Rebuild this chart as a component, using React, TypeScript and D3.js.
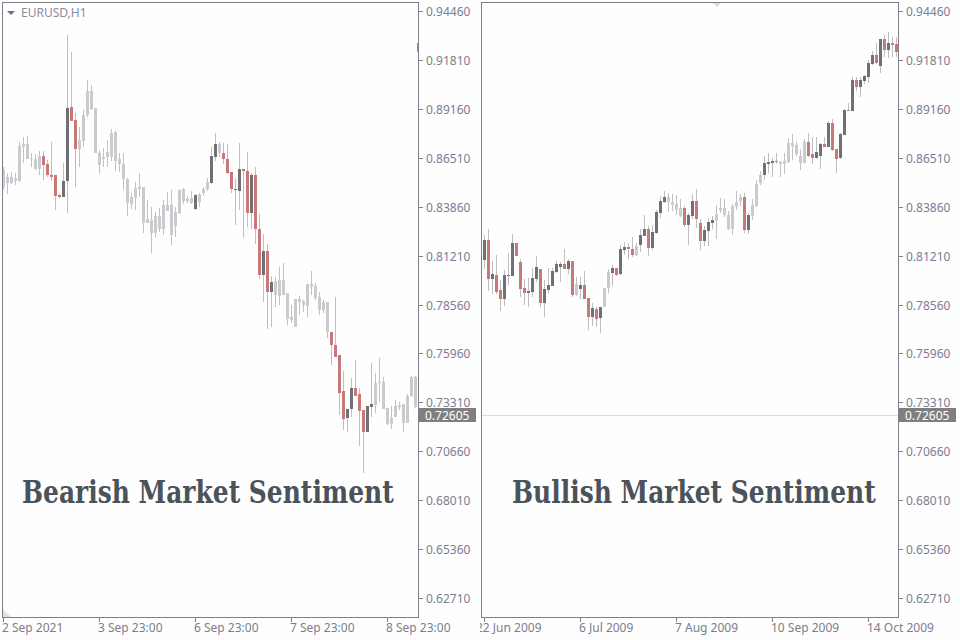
import React, { useLayoutEffect, useRef, useState } from 'react';
import * as d3 from 'd3';

// ---------- price axis ----------
const priceTicks = ['0.94460', '0.91810', '0.89160', '0.86510', '0.83860', '0.81210', '0.78560', '0.75960', '0.73310', '0.70660', '0.68010', '0.65360', '0.62710'];
const priceMin = 0.6271;
const priceMax = 0.9446;
const currentPrice = 0.72605;

// ---------- time axis ----------
const timeTickIndex = [0, 24, 48, 72, 96];
const leftTimeLabels = ['2 Sep 2021', '3 Sep 23:00', '6 Sep 23:00', '7 Sep 23:00', '8 Sep 23:00'];
const rightTimeLabels = ['22 Jun 2009', '6 Jul 2009', '7 Aug 2009', '10 Sep 2009', '14 Oct 2009'];

const symbolLabel = 'EURUSD,H1';
const leftTitle = 'Bearish Market Sentiment';
const rightTitle = 'Bullish Market Sentiment';

// ---------- left panel (bearish) ----------
const leftOpen = [0.8494, 0.8516, 0.8516, 0.8526, 0.8526, 0.8710, 0.8727, 0.8651, 0.8645, 0.8591, 0.8662, 0.8618, 0.8559, 0.8559, 0.8451, 0.8440, 0.8526, 0.8927, 0.8856, 0.8700, 0.8743, 0.8883, 0.9013, 0.8921, 0.8678, 0.8645, 0.8656, 0.8656, 0.8791, 0.8645, 0.8618, 0.8537, 0.8402, 0.8435, 0.8483, 0.8494, 0.8299, 0.8316, 0.8245, 0.8337, 0.8267, 0.8397, 0.8397, 0.8283, 0.8353, 0.8483, 0.8418, 0.8435, 0.8375, 0.8456, 0.8462, 0.8483, 0.8516, 0.8656, 0.8727, 0.8678, 0.8645, 0.8575, 0.8478, 0.8472, 0.8591, 0.8580, 0.8353, 0.8559, 0.8267, 0.8018, 0.8148, 0.7926, 0.7986, 0.7904, 0.7991, 0.7921, 0.7791, 0.7737, 0.7888, 0.7856, 0.7850, 0.7969, 0.7958, 0.7899, 0.7829, 0.7872, 0.7710, 0.7639, 0.7585, 0.7391, 0.7245, 0.7293, 0.7407, 0.7374, 0.7288, 0.7169, 0.7304, 0.7315, 0.7434, 0.7439, 0.7299, 0.7212, 0.7250, 0.7304, 0.7320, 0.7218, 0.7364, 0.7466];
const leftHigh = [0.8602, 0.8570, 0.8575, 0.8570, 0.8737, 0.8764, 0.8770, 0.8678, 0.8672, 0.8689, 0.8689, 0.8640, 0.8737, 0.8559, 0.8462, 0.8624, 0.9316, 0.9224, 0.8894, 0.8819, 0.8911, 0.9073, 0.9046, 0.8921, 0.8694, 0.8705, 0.8748, 0.8808, 0.8797, 0.8678, 0.8678, 0.8543, 0.8462, 0.8521, 0.8570, 0.8494, 0.8424, 0.8386, 0.8359, 0.8381, 0.8424, 0.8467, 0.8478, 0.8386, 0.8483, 0.8489, 0.8445, 0.8472, 0.8456, 0.8462, 0.8494, 0.8543, 0.8710, 0.8786, 0.8737, 0.8732, 0.8727, 0.8575, 0.8543, 0.8732, 0.8591, 0.8683, 0.8570, 0.8602, 0.8348, 0.8240, 0.8186, 0.8013, 0.8007, 0.8061, 0.8083, 0.7921, 0.7856, 0.7888, 0.7904, 0.7883, 0.7969, 0.8040, 0.7975, 0.7926, 0.7883, 0.7872, 0.7710, 0.7899, 0.7585, 0.7499, 0.7293, 0.7461, 0.7558, 0.7407, 0.7288, 0.7309, 0.7542, 0.7488, 0.7569, 0.7466, 0.7299, 0.7309, 0.7342, 0.7331, 0.7320, 0.7374, 0.7472, 0.7472];
const leftLow = [0.8478, 0.8456, 0.8510, 0.8505, 0.8521, 0.8624, 0.8645, 0.8602, 0.8586, 0.8559, 0.8532, 0.8548, 0.8526, 0.8370, 0.8435, 0.8440, 0.8353, 0.8851, 0.8494, 0.8602, 0.8710, 0.8873, 0.8911, 0.8678, 0.8565, 0.8602, 0.8602, 0.8635, 0.8580, 0.8575, 0.8478, 0.8337, 0.8375, 0.8370, 0.8440, 0.8245, 0.8299, 0.8137, 0.8223, 0.8251, 0.8234, 0.8364, 0.8180, 0.8223, 0.8348, 0.8402, 0.8408, 0.8402, 0.8370, 0.8386, 0.8445, 0.8472, 0.8510, 0.8635, 0.8656, 0.8618, 0.8565, 0.8462, 0.8289, 0.8370, 0.8218, 0.8278, 0.8267, 0.8186, 0.7996, 0.7872, 0.7726, 0.7737, 0.7845, 0.7856, 0.7910, 0.7748, 0.7759, 0.7737, 0.7801, 0.7818, 0.7791, 0.7910, 0.7883, 0.7801, 0.7812, 0.7677, 0.7531, 0.7574, 0.7261, 0.7180, 0.7169, 0.7250, 0.7364, 0.7093, 0.6947, 0.7169, 0.7250, 0.7272, 0.7331, 0.7293, 0.7207, 0.7185, 0.7250, 0.7288, 0.7169, 0.7218, 0.7358, 0.7299];
const leftClose = [0.8586, 0.8548, 0.8548, 0.8543, 0.8716, 0.8727, 0.8645, 0.8645, 0.8591, 0.8662, 0.8613, 0.8559, 0.8550, 0.8445, 0.8440, 0.8526, 0.8921, 0.8851, 0.8700, 0.8748, 0.8883, 0.9013, 0.8916, 0.8678, 0.8613, 0.8656, 0.8683, 0.8786, 0.8635, 0.8618, 0.8537, 0.8408, 0.8440, 0.8489, 0.8494, 0.8299, 0.8321, 0.8245, 0.8337, 0.8267, 0.8397, 0.8364, 0.8234, 0.8359, 0.8478, 0.8418, 0.8429, 0.8408, 0.8451, 0.8413, 0.8483, 0.8521, 0.8662, 0.8727, 0.8678, 0.8645, 0.8570, 0.8483, 0.8483, 0.8591, 0.8580, 0.8353, 0.8559, 0.8267, 0.8018, 0.8148, 0.7926, 0.7980, 0.7910, 0.7991, 0.7910, 0.7780, 0.7775, 0.7888, 0.7872, 0.7877, 0.7969, 0.7953, 0.7894, 0.7829, 0.7872, 0.7710, 0.7639, 0.7574, 0.7380, 0.7239, 0.7293, 0.7407, 0.7364, 0.7282, 0.7169, 0.7309, 0.7320, 0.7434, 0.7439, 0.7293, 0.7212, 0.7245, 0.7309, 0.7315, 0.7218, 0.7364, 0.7466, 0.7304];
// candles drawn in full colour on the left (0-based); the rest are faded
const leftHighlighted = [10, 11, 12, 13, 14, 15, 16, 17, 18, 48, 52, 53, 55, 56, 57, 58, 59, 60, 61, 62, 63, 64, 65, 66, 67, 82, 83, 84, 85, 86, 87, 88, 89, 90, 91, 92];

// ---------- right panel (bullish) ----------
const rightOpen = [0.8099, 0.8207, 0.7996, 0.8018, 0.7937, 0.7888, 0.8013, 0.8013, 0.8191, 0.8088, 0.7948, 0.7921, 0.7926, 0.7996, 0.8050, 0.7867, 0.7937, 0.7958, 0.8034, 0.8061, 0.8077, 0.8050, 0.8094, 0.7910, 0.7942, 0.7964, 0.7894, 0.7791, 0.7834, 0.7786, 0.7845, 0.7948, 0.8029, 0.8056, 0.8023, 0.8154, 0.8169, 0.8159, 0.8126, 0.8180, 0.8229, 0.8267, 0.8164, 0.8245, 0.8353, 0.8413, 0.8440, 0.8413, 0.8402, 0.8381, 0.8381, 0.8289, 0.8337, 0.8418, 0.8299, 0.8202, 0.8256, 0.8299, 0.8310, 0.8370, 0.8381, 0.8343, 0.8267, 0.8386, 0.8418, 0.8440, 0.8262, 0.8337, 0.8391, 0.8516, 0.8559, 0.8618, 0.8624, 0.8635, 0.8629, 0.8618, 0.8629, 0.8732, 0.8721, 0.8662, 0.8624, 0.8737, 0.8672, 0.8651, 0.8662, 0.8727, 0.8710, 0.8840, 0.8700, 0.8651, 0.8775, 0.8911, 0.8905, 0.9073, 0.9035, 0.9067, 0.9089, 0.9160, 0.9208, 0.9149, 0.9295, 0.9235, 0.9273, 0.9268];
const rightHigh = [0.8234, 0.8267, 0.8094, 0.8126, 0.7991, 0.8045, 0.8137, 0.8240, 0.8191, 0.8105, 0.7996, 0.8002, 0.8056, 0.8121, 0.8050, 0.7991, 0.8056, 0.8056, 0.8094, 0.8088, 0.8159, 0.8105, 0.8094, 0.8007, 0.8007, 0.8040, 0.7894, 0.7867, 0.7845, 0.7845, 0.7948, 0.8050, 0.8072, 0.8056, 0.8180, 0.8197, 0.8191, 0.8223, 0.8191, 0.8267, 0.8343, 0.8283, 0.8289, 0.8370, 0.8445, 0.8472, 0.8462, 0.8456, 0.8451, 0.8429, 0.8391, 0.8353, 0.8456, 0.8483, 0.8321, 0.8283, 0.8326, 0.8337, 0.8397, 0.8435, 0.8429, 0.8364, 0.8402, 0.8472, 0.8456, 0.8462, 0.8353, 0.8429, 0.8532, 0.8580, 0.8662, 0.8678, 0.8651, 0.8678, 0.8635, 0.8678, 0.8759, 0.8781, 0.8737, 0.8700, 0.8754, 0.8786, 0.8764, 0.8764, 0.8732, 0.8764, 0.8851, 0.8862, 0.8700, 0.8786, 0.8916, 0.8948, 0.9089, 0.9089, 0.9089, 0.9100, 0.9181, 0.9229, 0.9273, 0.9295, 0.9316, 0.9332, 0.9305, 0.9305];
const rightLow = [0.8050, 0.7932, 0.7915, 0.7915, 0.7823, 0.7850, 0.7964, 0.8013, 0.8121, 0.7899, 0.7856, 0.7845, 0.7899, 0.7980, 0.7845, 0.7791, 0.7921, 0.7958, 0.8029, 0.7980, 0.8050, 0.8023, 0.7899, 0.7904, 0.7888, 0.7888, 0.7721, 0.7742, 0.7737, 0.7704, 0.7845, 0.7921, 0.7958, 0.8013, 0.8018, 0.8126, 0.8105, 0.8115, 0.8121, 0.8143, 0.8229, 0.8121, 0.8154, 0.8240, 0.8326, 0.8408, 0.8359, 0.8364, 0.8343, 0.8332, 0.8278, 0.8180, 0.8321, 0.8272, 0.8153, 0.8175, 0.8175, 0.8267, 0.8213, 0.8353, 0.8332, 0.8262, 0.8234, 0.8370, 0.8391, 0.8245, 0.8240, 0.8316, 0.8386, 0.8505, 0.8532, 0.8570, 0.8548, 0.8618, 0.8548, 0.8565, 0.8624, 0.8640, 0.8662, 0.8586, 0.8624, 0.8656, 0.8618, 0.8645, 0.8591, 0.8710, 0.8710, 0.8689, 0.8570, 0.8645, 0.8775, 0.8905, 0.8905, 0.9013, 0.8981, 0.9051, 0.9057, 0.9154, 0.9160, 0.9111, 0.9197, 0.9192, 0.9197, 0.9197];
const rightClose = [0.8207, 0.7996, 0.8023, 0.7926, 0.7888, 0.8018, 0.8018, 0.8191, 0.8121, 0.7942, 0.7921, 0.7932, 0.8002, 0.8061, 0.7867, 0.7942, 0.7964, 0.8040, 0.8077, 0.8077, 0.8050, 0.8094, 0.7910, 0.7969, 0.7964, 0.7888, 0.7791, 0.7839, 0.7780, 0.7845, 0.7948, 0.8034, 0.8056, 0.8018, 0.8159, 0.8169, 0.8159, 0.8126, 0.8175, 0.8234, 0.8267, 0.8164, 0.8251, 0.8359, 0.8418, 0.8440, 0.8413, 0.8397, 0.8370, 0.8337, 0.8289, 0.8343, 0.8418, 0.8321, 0.8202, 0.8261, 0.8305, 0.8316, 0.8348, 0.8381, 0.8343, 0.8267, 0.8391, 0.8413, 0.8440, 0.8262, 0.8343, 0.8397, 0.8510, 0.8559, 0.8624, 0.8629, 0.8635, 0.8629, 0.8618, 0.8635, 0.8732, 0.8716, 0.8672, 0.8624, 0.8737, 0.8662, 0.8651, 0.8683, 0.8727, 0.8710, 0.8840, 0.8694, 0.8645, 0.8781, 0.8911, 0.8905, 0.9073, 0.9035, 0.9073, 0.9094, 0.9165, 0.9208, 0.9165, 0.9295, 0.9235, 0.9273, 0.9262, 0.9224];
// candles drawn faded on the right (0-based); the rest are in full colour
const rightFaded = [23, 30, 31, 38, 46, 47, 48, 49, 58, 59, 60, 61, 62, 63, 64, 67, 68, 69, 74, 75, 76, 77, 78, 79, 80];

const C_BULL = '#6f7175';
const C_BEAR = '#c97878';
const C_FADED = '#cbcacf';
const C_WICK = '#bdbdc2';
const C_AXIS = '#7f7f88';
const C_TEXT = '#7b7d8e';
const C_TITLE = '#4b525a';
const FONT = "'Noto Sans', 'DejaVu Sans', sans-serif";

type Panel = {
  key: string;
  left: number;
  right: number;
  xs: d3.ScaleLinear<number, number>;
  open: number[]; high: number[]; low: number[]; close: number[];
  faded: (i: number) => boolean;
  timeLabels: string[];
  title: string;
  titleLen: number;
  titleX: number;
  showPriceLine: boolean;
};

// Title text squeezed horizontally to the width it has in the reference
function Title({ x, y, width, text }: { x: number; y: number; width: number; text: string }) {
  const ref = useRef<SVGTextElement>(null);
  const [sx, setSx] = useState(1);
  useLayoutEffect(() => {
    if (ref.current) {
      const w = ref.current.getComputedTextLength();
      if (w > 0) setSx(width / w);
    }
  }, [width, text]);
  return (
    <g transform={`translate(${x},${y}) scale(${sx},1)`}>
      <text ref={ref} x={0} y={0} fontFamily="'DejaVu Serif', serif" fontWeight="bold" fontSize={31} fill={C_TITLE}>{text}</text>
    </g>
  );
}

export default function App() {
  const W = 960, H = 640;
  const top = 2, bottom = 617;
  const y = d3.scaleLinear().domain([priceMin, priceMax]).range([598, 11]);
  const leftSet = new Set(leftHighlighted);
  const rightSet = new Set(rightFaded);

  const panels: Panel[] = [
    {
      key: 'L', left: 2, right: 418,
      xs: d3.scaleLinear().domain([0, leftOpen.length - 1]).range([3, 415]),
      open: leftOpen, high: leftHigh, low: leftLow, close: leftClose,
      faded: (i) => !leftSet.has(i),
      timeLabels: leftTimeLabels, title: leftTitle, titleLen: 372, titleX: 22, showPriceLine: false,
    },
    {
      key: 'R', left: 481, right: 898,
      xs: d3.scaleLinear().domain([0, rightOpen.length - 1]).range([484, 896]),
      open: rightOpen, high: rightHigh, low: rightLow, close: rightClose,
      faded: (i) => rightSet.has(i),
      timeLabels: rightTimeLabels, title: rightTitle, titleLen: 364, titleX: 512, showPriceLine: true,
    },
  ];

  const cpY = Math.round(y(currentPrice));

  return (
    <svg width={W} height={H} style={{ position: 'fixed', left: 0, top: 0, background: '#fefefe' }} xmlns="http://www.w3.org/2000/svg">
      <rect x={0} y={0} width={W} height={H} fill="#fefefe" />
      <defs>
        {panels.map((p) => (
          <clipPath id={`clip${p.key}`} key={p.key}>
            <rect x={p.left + 1} y={top + 1} width={p.right - p.left - 1} height={bottom - top - 1} />
          </clipPath>
        ))}
        <clipPath id="clipRT">
          <rect x={480} y={618} width={480} height={22} />
        </clipPath>
      </defs>

      {panels.map((p) => (
        <g key={p.key}>
          {/* price line */}
          {p.showPriceLine && (
            <rect x={p.left + 1} y={cpY} width={p.right - p.left - 1} height={1} fill="#dcdcdc" shapeRendering="crispEdges" />
          )}
          {/* candles */}
          <g clipPath={`url(#clip${p.key})`} shapeRendering="crispEdges">
            {p.open.map((o, i) => {
              const c = p.close[i];
              const cx = Math.round(p.xs(i));
              const yh = Math.round(y(p.high[i]));
              const yl = Math.round(y(p.low[i]));
              const bt = Math.round(y(Math.max(o, c)));
              const bb = Math.round(y(Math.min(o, c)));
              const fill = p.faded(i) ? C_FADED : c >= o ? C_BULL : C_BEAR;
              return (
                <g key={i}>
                  <rect x={cx} y={yh} width={1} height={Math.max(1, yl - yh)} fill={p.faded(i) ? '#c2c1c7' : C_WICK} />
                  <rect x={cx - 1} y={bt} width={3} height={Math.max(1, bb - bt)} fill={fill} />
                </g>
              );
            })}
          </g>
          {/* frame */}
          <g shapeRendering="crispEdges" fill={C_AXIS}>
            <rect x={p.left} y={top} width={p.right - p.left} height={1} />
            <rect x={p.left} y={top} width={1} height={bottom - top + 1} />
            <rect x={p.right} y={top} width={1} height={bottom - top + 1} />
            <rect x={p.left} y={bottom} width={p.right - p.left + 1} height={1} />
          </g>
          {/* price axis */}
          {priceTicks.map((t) => {
            const ty = Math.round(y(+t));
            return (
              <g key={t}>
                <rect x={p.right + 1} y={ty} width={4} height={1} fill={C_AXIS} shapeRendering="crispEdges" />
                {Math.abs(ty - cpY) > 9 && (
                  <text x={p.right + 8} y={ty + 4.5} fontFamily={FONT} fontSize={12} fill={C_TEXT}>{t}</text>
                )}
                {Math.abs(ty - cpY) <= 9 && (
                  <text x={p.right + 8} y={ty + 3.5} fontFamily={FONT} fontSize={12} fill={C_TEXT}>{t}</text>
                )}
              </g>
            );
          })}
          <rect x={p.right + 1} y={cpY - 7} width={57} height={14} fill="#7f7f80" shapeRendering="crispEdges" />
          <text x={p.right + 7} y={cpY + 4.5} fontFamily={FONT} fontSize={12} fill="#ffffff">{currentPrice.toFixed(5)}</text>
          {/* time axis */}
          <g clipPath={p.key === 'R' ? 'url(#clipRT)' : undefined}>
            {timeTickIndex.map((ti, k) => {
              const tx = Math.round(p.xs(ti));
              const lx = p.key === 'R' && k === 0 ? tx - 8 : tx - 1;
              return (
                <g key={ti}>
                  <rect x={tx} y={bottom + 1} width={1} height={4} fill={C_AXIS} shapeRendering="crispEdges" />
                  <text x={lx} y={632} fontFamily={FONT} fontSize={12} fill={C_TEXT}>{p.timeLabels[k]}</text>
                </g>
              );
            })}
          </g>
          {/* title */}
          <Title x={p.titleX} y={503} width={p.titleLen} text={p.title} />
        </g>
      ))}

      {/* small chart decorations */}
      <path d="M7,11 L15,11 L11,15 Z" fill="#6f7180" />
      <text x={21} y={17} fontFamily={FONT} fontSize={12} fill="#8a8c9c">{symbolLabel}</text>
      <path d="M713,3 L721,3 L717,7 Z" fill="#dcdce2" />
      <path d="M3,609 L3,617 L11,617 Z" fill="#e2e2ea" />
      <rect x={417} y={43} width={1} height={9} fill={C_BEAR} />
    </svg>
  );
}
